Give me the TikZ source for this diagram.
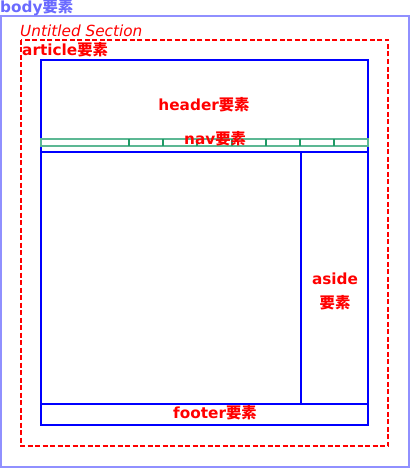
\documentclass[tikz,border=0pt]{standalone}
\usepackage{fontspec}
\setmainfont{DejaVu Sans}
\newfontfamily\cjk{Noto Sans CJK JP}
\definecolor{bodyblue}{HTML}{6A6AFF}
\definecolor{bodyline}{HTML}{9090FF}
\definecolor{navgreen}{HTML}{5CB894}
\definecolor{navdiv}{HTML}{1F9A66}
\begin{document}
\begin{tikzpicture}[x=1pt,y=-1pt,
  lbl/.style={text=red,font=\bfseries\fontsize{15.3}{17}\selectfont,inner sep=0pt},
  blk/.style={draw=blue,line width=2.8pt},
  ]
\useasboundingbox (0,0) rectangle (410,468);
% body
\draw[bodyline,line width=1.6pt] (1,16) rectangle (409,467);
\node[anchor=west,inner sep=0pt,text=bodyblue,font=\bfseries\fontsize{15.3}{17}\selectfont] (body) at (0,8) {body{\cjk\bfseries 要素}};
% section
\node[anchor=west,inner sep=0pt,text=red,font=\itshape\fontsize{15.3}{17}\selectfont] (sec) at (20,31) {Untitled Section};
\draw[red,line width=2.5pt,dash pattern=on 5pt off 2.5pt] (21,40) rectangle (388,446);
\node[lbl,anchor=west] (art) at (22,50) {article{\cjk\bfseries 要素}};
% main container
\draw[blk] (41,60) rectangle (368,425);
% nav bar
\draw[navgreen,line width=2pt] (41,139) rectangle (368,146);
\foreach \x in {129,163,197,232,266,300,334}
  \draw[navdiv,line width=2pt] (\x,139) -- (\x,146);
% header bottom
\draw[blk] (41,152) -- (368,152);
% aside
\draw[blk] (301,152) -- (301,404);
% footer
\draw[blk] (41,404) -- (368,404);
\node[lbl] (hdr) at (204,105) {header{\cjk\bfseries 要素}};
\node[lbl] (nav) at (215,139) {nav{\cjk\bfseries 要素}};
\node[lbl] (aside1) at (335,279) {aside};
\node[lbl] (aside2) at (335,303) {{\cjk\bfseries 要素}};
\node[lbl] (foot) at (215,413) {footer{\cjk\bfseries 要素}};
\end{tikzpicture}
\end{document}
